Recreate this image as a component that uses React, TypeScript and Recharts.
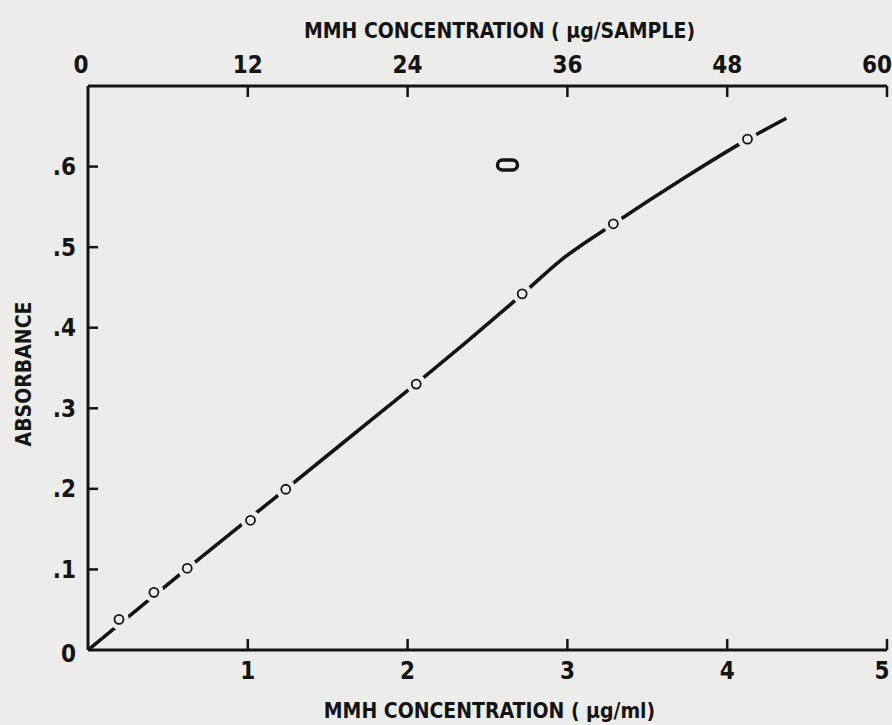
import React from 'react';
import { ComposedChart, Line, Scatter, XAxis, YAxis, Label } from 'recharts';

// ---- data ----
// calibration points: concentration (µg/ml) vs absorbance
const pointConc = [0.194, 0.4125, 0.621, 1.017, 1.2375, 2.054, 2.717, 3.2875, 4.127];
const pointAbs = [0.038, 0.0716, 0.1014, 0.161, 0.1995, 0.33, 0.442, 0.529, 0.634];
// hand-drawn fitted curve
const curveConc = [0, 0.6, 1.24, 1.825, 2.05, 2.72, 2.96, 3.29, 3.74, 4.13, 4.37];
const curveAbs = [0, 0.098, 0.2, 0.294, 0.33, 0.442, 0.484, 0.529, 0.587, 0.634, 0.66];
// stray oval mark inside the plot
const markConc = [2.625];
const markAbs = [0.602];

const bottomTicks = [1, 2, 3, 4, 5];
const topTicks = [0, 12, 24, 36, 48, 60];
const leftTicks = [0, 0.1, 0.2, 0.3, 0.4, 0.5, 0.6];

const topTitle = 'MMH CONCENTRATION ( μg/SAMPLE)';
const bottomTitle = 'MMH CONCENTRATION ( μg/ml)';
const leftTitle = 'ABSORBANCE';

const points = pointConc.map((x, i) => ({ x, y: pointAbs[i] }));
const curve = curveConc.map((x, i) => ({ x, y: curveAbs[i] }));
const mark = markConc.map((x, i) => ({ x, y: markAbs[i] }));

// ---- styles ----
const BG = '#ececea';
const INK = '#141414';
const FONT = "'Liberation Sans Narrow', 'DejaVu Sans Condensed', 'Roboto Condensed', sans-serif";
const TICK_FS = 24;
const TITLE_FS = 21;
const TICK_LEN = 11;

const fmtY = (v: number) => (v === 0 ? '0' : v.toFixed(1).replace(/^0/, ''));

const LeftTick = (props: any) => {
  const { x, y, payload } = props;
  const axisX = x + 12;
  return (
    <g>
      {payload.value !== 0 && (
        <line x1={axisX} x2={axisX + 10} y1={y} y2={y} stroke={INK} strokeWidth={2.5} />
      )}
      <text x={x} y={y} dy={payload.value === 0 ? '0.5em' : '0.36em'} textAnchor="end" fill={INK}
        fontFamily={FONT} fontWeight={700} fontSize={TICK_FS}>
        {fmtY(payload.value)}
      </text>
    </g>
  );
};

const BottomTick = (props: any) => {
  const { x, y, payload, index } = props;
  const axisY = y - 20;
  const last = index === bottomTicks.length - 1;
  return (
    <g>
      <line x1={x} x2={x} y1={axisY} y2={axisY - TICK_LEN} stroke={INK} strokeWidth={2.5} />
      <text x={last ? x - 5 : x} y={y} dy="0.36em" textAnchor="middle" fill={INK}
        fontFamily={FONT} fontWeight={700} fontSize={TICK_FS}>
        {payload.value}
      </text>
    </g>
  );
};

const TopTick = (props: any) => {
  const { x, y, payload, index } = props;
  const axisY = y + 22;
  const last = index === topTicks.length - 1;
  return (
    <g>
      {payload.value !== 0 && (
        <line x1={x} x2={x} y1={axisY} y2={axisY + TICK_LEN} stroke={INK} strokeWidth={2.5} />
      )}
      <text x={payload.value === 0 ? x - 7 : last ? x - 10 : x} y={y} dy="0.36em" textAnchor="middle" fill={INK}
        fontFamily={FONT} fontWeight={700} fontSize={TICK_FS}>
        {payload.value}
      </text>
    </g>
  );
};

const PointShape = (props: any) => {
  const { cx, cy } = props;
  return (
    <g>
      <circle cx={cx} cy={cy} r={10} fill={BG} stroke="none" />
      <circle cx={cx} cy={cy} r={4.5} fill={BG} stroke={INK} strokeWidth={1.8} />
    </g>
  );
};

const MarkShape = (props: any) => {
  const { cx, cy } = props;
  const d = `M ${cx - 5} ${cy - 5} L ${cx + 5} ${cy - 5} A 5 5 0 0 1 ${cx + 5} ${cy + 5} L ${cx - 5} ${cy + 5} A 5 5 0 0 1 ${cx - 5} ${cy - 5} Z`;
  return <path d={d} fill="none" stroke={INK} strokeWidth={3.4} />;
};

const TopTitle = (props: any) => {
  const vb = props.viewBox;
  return (
    <text x={vb.x + vb.width / 2 + 12} y={30} dy="0.36em" textAnchor="middle" fill={INK}
      fontFamily={FONT} fontWeight={700} fontSize={TITLE_FS}>
      {topTitle}
    </text>
  );
};

const BottomTitle = (props: any) => {
  const vb = props.viewBox;
  return (
    <text x={vb.x + vb.width / 2 + 2} y={710} dy="0.36em" textAnchor="middle" fill={INK}
      fontFamily={FONT} fontWeight={700} fontSize={TITLE_FS}>
      {bottomTitle}
    </text>
  );
};

const LeftTitle = (props: any) => {
  const vb = props.viewBox;
  const cy = vb.y + vb.height / 2 + 6;
  return (
    <text x={23} y={cy} dy="0.36em" textAnchor="middle" fill={INK} transform={`rotate(-90 23 ${cy})`}
      fontFamily={FONT} fontWeight={700} fontSize={TITLE_FS}>
      {leftTitle}
    </text>
  );
};

export default function App() {
  return (
    <div style={{ position: 'absolute', left: 0, top: 0, width: 892, height: 725, background: BG }}>
      <ComposedChart width={892} height={725} margin={{ top: 0, right: 5, bottom: 0, left: 0 }}>
        <XAxis xAxisId="bottom" dataKey="x" type="number" domain={[0, 5]} ticks={bottomTicks}
          allowDataOverflow orientation="bottom" height={75} tickSize={0} tickMargin={20}
          tickLine={false} axisLine={{ stroke: INK, strokeWidth: 3 }} tick={<BottomTick />}
          interval={0}>
          <Label content={<BottomTitle />} />
        </XAxis>
        <XAxis xAxisId="top" dataKey="s" type="number" domain={[0, 60]} ticks={topTicks}
          allowDataOverflow orientation="top" height={86} tickSize={0} tickMargin={22}
          tickLine={false} axisLine={{ stroke: INK, strokeWidth: 3 }} tick={<TopTick />}
          interval={0}>
          <Label content={<TopTitle />} />
        </XAxis>
        <YAxis yAxisId="left" dataKey="y" type="number" domain={[0, 0.7]} ticks={leftTicks}
          allowDataOverflow width={88} tickSize={0} tickMargin={12} tickLine={false}
          axisLine={{ stroke: INK, strokeWidth: 3 }} tick={<LeftTick />} interval={0}>
          <Label content={<LeftTitle />} />
        </YAxis>
        <Line xAxisId="bottom" yAxisId="left" data={curve} dataKey="y" type="monotone"
          stroke={INK} strokeWidth={3.6} dot={false} activeDot={false} isAnimationActive={false} />
        <Scatter xAxisId="bottom" yAxisId="left" data={points} dataKey="y"
          shape={<PointShape />} isAnimationActive={false} />
        <Scatter xAxisId="bottom" yAxisId="left" data={mark} dataKey="y"
          shape={<MarkShape />} isAnimationActive={false} />
      </ComposedChart>
    </div>
  );
}
